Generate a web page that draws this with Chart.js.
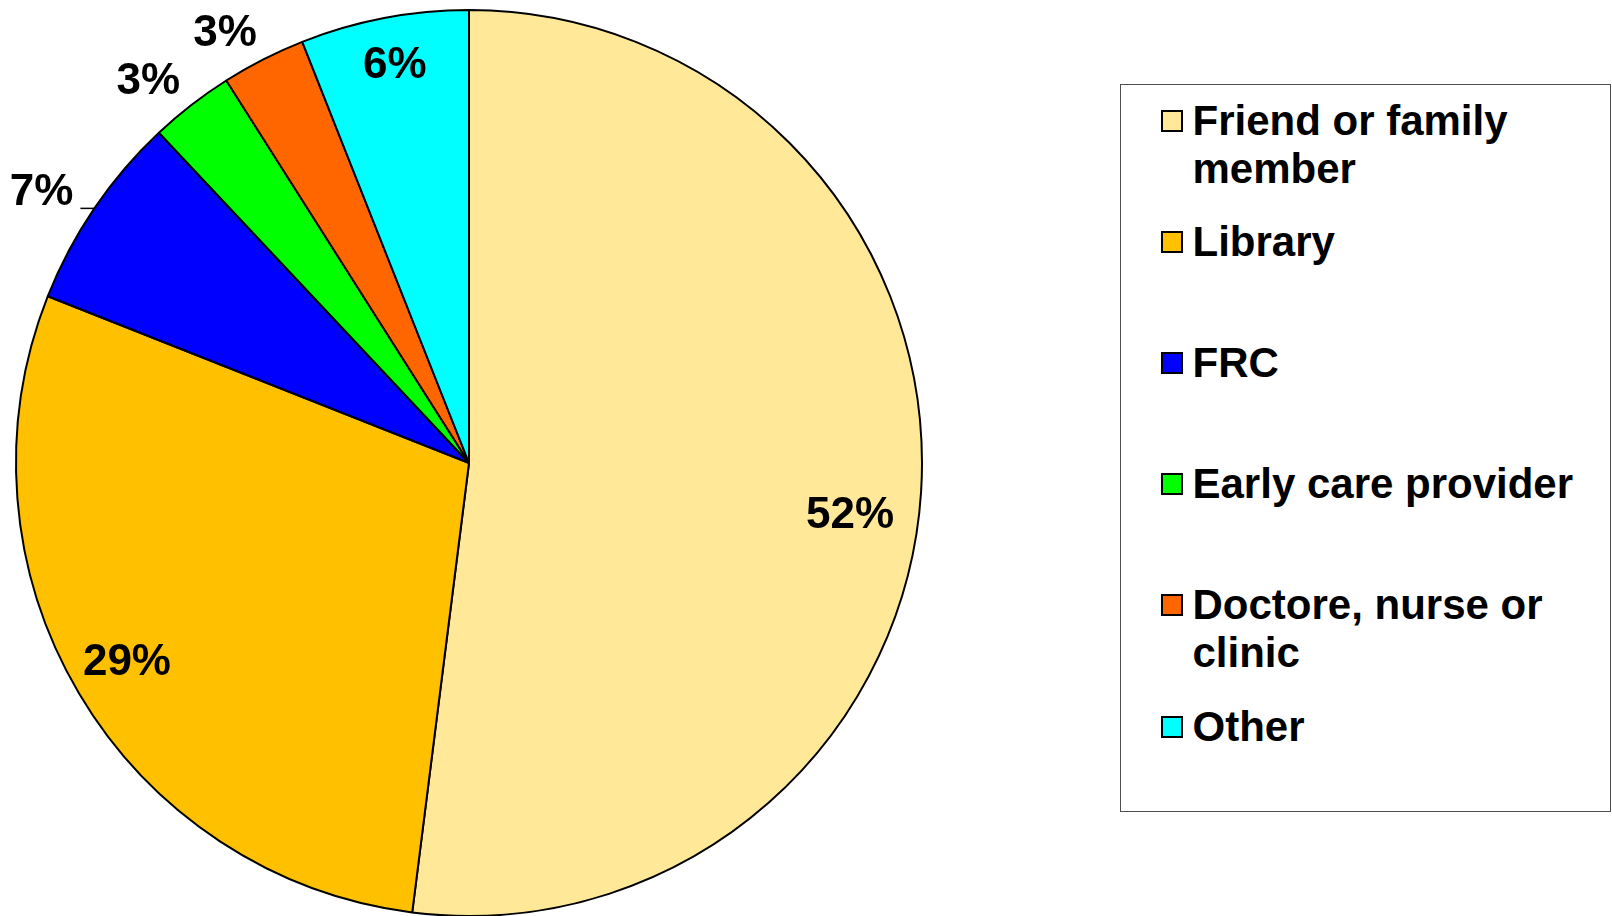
<!DOCTYPE html>
<html lang="en">
<head>
    <meta charset="UTF-8">
    <title>Where parents heard about it</title>
    <script src="https://cdn.jsdelivr.net/npm/chart.js"></script>
    <style>
        body {
            margin: 0;
            background: #ffffff;
            overflow: hidden;
            font-family: 'Liberation Sans', Arial, sans-serif;
        }
        #chartWrap {
            position: absolute;
            left: 0;
            top: 0;
            width: 1612px;
            height: 916px;
        }
        #legend {
            position: absolute;
            left: 1120px;
            top: 84px;
            width: 491px;
            height: 728px;
            box-sizing: border-box;
            border: 1.5px solid #505050;
            background: #ffffff;
        }
        .item {
            position: absolute;
            left: 39.5px;
            display: flex;
            align-items: flex-start;
        }
        .swatch {
            width: 22px;
            height: 22px;
            box-sizing: border-box;
            border: 2px solid #000;
            margin-top: 13px;
            flex: none;
        }
        .text {
            margin-left: 10px;
            width: 395px;
            font-size: 42px;
            font-weight: bold;
            line-height: 48px;
            color: #000;
        }
    </style>
</head>
<body>
<div id="chartWrap">
    <canvas id="pieChart" width="1612" height="916"></canvas>
</div>
<div id="legend"></div>

<script>
    // data
    const categories = ['Friend or family member', 'Library', 'FRC', 'Early care provider', 'Doctore, nurse or clinic', 'Other'];
    const shares = [52, 29, 7, 3, 3, 6];
    const sliceColors = ['#FFE999', '#FFC000', '#0000FF', '#00FF00', '#FF6600', '#00FFFF'];

    // where each percent label sits: fraction of radius, angle nudge (deg), leader line
    const labelSpots = [
        { r: 0.848, nudge: 3.7, leader: false },
        { r: 0.871, nudge: 0.7, leader: false },
        { r: 1.12, nudge: -1.6, leader: true },
        { r: 1.106, nudge: -2.0, leader: false },
        { r: 1.097, nudge: -2.4, leader: false },
        { r: 0.90, nudge: 0.3, leader: false }
    ];

    const pctLabels = {
        id: 'pctLabels',
        afterDatasetsDraw(chart) {
            const ctx = chart.ctx;
            const arcs = chart.getDatasetMeta(0).data;
            ctx.save();
            ctx.font = 'bold 44px "Liberation Sans", Arial, sans-serif';
            ctx.fillStyle = '#000';
            ctx.textAlign = 'center';
            ctx.textBaseline = 'alphabetic';
            arcs.forEach((arc, i) => {
                const p = arc.getProps(['x', 'y', 'startAngle', 'endAngle', 'outerRadius'], true);
                const mid = (p.startAngle + p.endAngle) / 2;
                const spot = labelSpots[i];
                const a = mid + spot.nudge * Math.PI / 180;
                const cx = p.x + Math.cos(a) * p.outerRadius * spot.r;
                const cy = p.y + Math.sin(a) * p.outerRadius * spot.r;
                const txt = shares[i] + '%';
                ctx.fillText(txt, cx, cy + 15.7);
                if (spot.leader) {
                    const w = ctx.measureText(txt).width;
                    const ex = p.x + Math.cos(mid) * p.outerRadius;
                    const ey = p.y + Math.sin(mid) * p.outerRadius;
                    ctx.beginPath();
                    ctx.strokeStyle = '#000';
                    ctx.lineWidth = 1.5;
                    ctx.moveTo(ex, ey);
                    ctx.lineTo(cx + w / 2 + 7, ey);
                    ctx.stroke();
                }
            });
            ctx.restore();
        }
    };

    new Chart(document.getElementById('pieChart'), {
        type: 'pie',
        data: {
            labels: categories,
            datasets: [{
                data: shares,
                backgroundColor: sliceColors,
                borderColor: '#000000',
                borderWidth: 2
            }]
        },
        options: {
            responsive: false,
            animation: false,
            devicePixelRatio: 1,
            radius: 453,
            layout: {
                padding: { left: 0, right: 674, top: 10, bottom: 0 }
            },
            plugins: {
                legend: { display: false },
                tooltip: { enabled: false }
            }
        },
        plugins: [pctLabels]
    });

    // legend box on the right
    const legendBox = document.getElementById('legend');
    categories.forEach((name, i) => {
        const item = document.createElement('div');
        item.className = 'item';
        item.style.top = (11.6 + i * 121.2) + 'px';
        const sw = document.createElement('div');
        sw.className = 'swatch';
        sw.style.background = sliceColors[i];
        const tx = document.createElement('div');
        tx.className = 'text';
        tx.textContent = name;
        item.appendChild(sw);
        item.appendChild(tx);
        legendBox.appendChild(item);
    });
</script>
</body>
</html>
